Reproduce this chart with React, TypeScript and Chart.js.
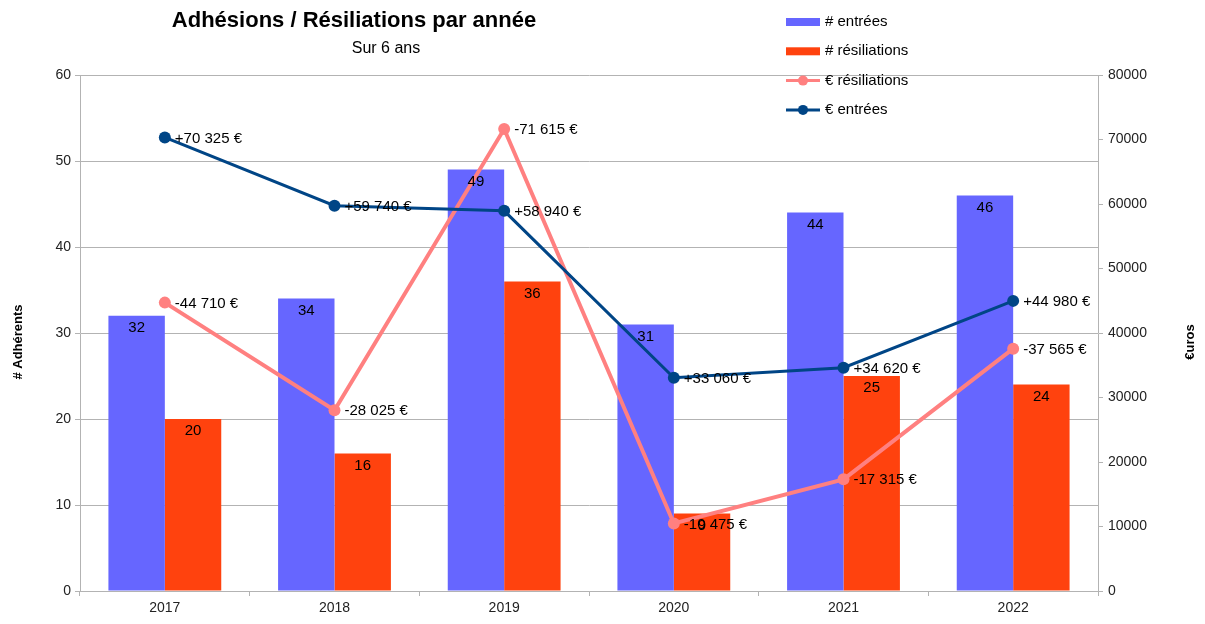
import React, { useEffect, useRef } from "react";
import { Chart, registerables } from "chart.js";

Chart.register(...registerables);

const categories = ["2017", "2018", "2019", "2020", "2021", "2022"];
const entrees = [32, 34, 49, 31, 44, 46];
const resiliations = [20, 16, 36, 9, 25, 24];
const euroResiliations = [44710, 28025, 71615, 10475, 17315, 37565];
const euroEntrees = [70325, 59740, 58940, 33060, 34620, 44980];

const FONT = "'Liberation Sans', Arial, sans-serif";
const BLUE = "#6666ff";
const RED = "#ff420e";
const PINK = "#ff8080";
const NAVY = "#004586";
const GRID = "#b3b3b3";

const fmt = (v: number) => String(v).replace(/\B(?=(\d{3})+(?!\d))/g, " ") + " €";

const overlayPlugin = {
  id: "overlay",
  afterDatasetsDraw(chart: any) {
    const ctx = chart.ctx;
    ctx.save();
    // bar labels
    ctx.font = `15px ${FONT}`;
    ctx.fillStyle = "#000";
    ctx.textAlign = "center";
    ctx.textBaseline = "middle";
    [0, 1].forEach((di) => {
      const meta = chart.getDatasetMeta(di);
      meta.data.forEach((el: any, i: number) => {
        const v = chart.data.datasets[di].data[i];
        ctx.fillText(String(v), el.x, el.y + 12);
      });
    });
    // line labels
    ctx.textAlign = "left";
    [2, 3].forEach((di) => {
      const meta = chart.getDatasetMeta(di);
      const sign = di === 2 ? "-" : "+";
      meta.data.forEach((el: any, i: number) => {
        const v = chart.data.datasets[di].data[i];
        ctx.fillText(sign + fmt(v), el.x + 10, el.y + 1);
      });
    });
    ctx.restore();
  },
  afterDraw(chart: any) {
    const ctx = chart.ctx;
    ctx.save();
    // titles
    ctx.fillStyle = "#000";
    ctx.textAlign = "center";
    ctx.textBaseline = "middle";
    ctx.font = `bold 22px ${FONT}`;
    ctx.fillText("Adhésions / Résiliations par année", 354, 21);
    ctx.font = `16px ${FONT}`;
    ctx.fillText("Sur 6 ans", 386, 49);
    // axis titles
    ctx.font = `bold 13px ${FONT}`;
    ctx.save();
    ctx.translate(18, 342);
    ctx.rotate(-Math.PI / 2);
    ctx.fillText("# Adhérents", 0, 0);
    ctx.restore();
    ctx.save();
    ctx.translate(1190, 342);
    ctx.rotate(-Math.PI / 2);
    ctx.fillText("€uros", 0, 0);
    ctx.restore();
    // legend
    const items = [
      { label: "# entrées", color: BLUE, type: "bar" },
      { label: "# résiliations", color: RED, type: "bar" },
      { label: "€ résiliations", color: PINK, type: "line" },
      { label: "€ entrées", color: NAVY, type: "line" },
    ];
    ctx.font = `15px ${FONT}`;
    ctx.textAlign = "left";
    items.forEach((it, i) => {
      const y = 22 + i * 29.3;
      if (it.type === "bar") {
        ctx.fillStyle = it.color;
        ctx.fillRect(786, y - 4, 34, 8);
      } else {
        ctx.strokeStyle = it.color;
        ctx.lineWidth = 3;
        ctx.beginPath();
        ctx.moveTo(786, y);
        ctx.lineTo(820, y);
        ctx.stroke();
        ctx.fillStyle = it.color;
        ctx.beginPath();
        ctx.arc(803, y, 5, 0, Math.PI * 2);
        ctx.fill();
      }
      ctx.fillStyle = "#000";
      ctx.fillText(it.label, 825, y);
    });
    ctx.restore();
  },
};

export default function App() {
  const ref = useRef<HTMLCanvasElement>(null);
  useEffect(() => {
    document.body.style.margin = "0";
    const chart = new Chart(ref.current!, {
      type: "bar",
      data: {
        labels: categories,
        datasets: [
          {
            type: "bar",
            label: "# entrées",
            data: entrees,
            backgroundColor: BLUE,
            yAxisID: "y",
            order: 3,
            categoryPercentage: 0.665,
            barPercentage: 1,
          },
          {
            type: "bar",
            label: "# résiliations",
            data: resiliations,
            backgroundColor: RED,
            yAxisID: "y",
            order: 3,
            categoryPercentage: 0.665,
            barPercentage: 1,
          },
          {
            type: "line",
            label: "€ résiliations",
            data: euroResiliations,
            borderColor: PINK,
            backgroundColor: PINK,
            borderWidth: 4,
            pointRadius: 6,
            pointBorderWidth: 0,
            pointBackgroundColor: PINK,
            yAxisID: "y1",
            order: 2,
          },
          {
            type: "line",
            label: "€ entrées",
            data: euroEntrees,
            borderColor: NAVY,
            backgroundColor: NAVY,
            borderWidth: 3,
            pointRadius: 6,
            pointBorderWidth: 0,
            pointBackgroundColor: NAVY,
            yAxisID: "y1",
            order: 1,
          },
        ],
      },
      options: {
        animation: false,
        responsive: true,
        maintainAspectRatio: false,
        layout: { padding: { top: 75, left: 0, right: 0, bottom: 0 } },
        plugins: {
          legend: { display: false },
          title: { display: false },
          tooltip: { enabled: false },
        },
        scales: {
          x: {
            offset: true,
            grid: {
              display: true,
              offset: true,
              drawOnChartArea: false,
              drawTicks: true,
              tickLength: 5,
              color: GRID,
            },
            border: { display: true, color: GRID },
            ticks: { color: "#222", font: { family: FONT, size: 14 }, padding: 4 },
            afterFit: (s: any) => {
              s.height = 33;
            },
          },
          y: {
            position: "left",
            min: 0,
            max: 60,
            ticks: { stepSize: 10, color: "#222", font: { family: FONT, size: 14 }, padding: 4 },
            grid: { color: GRID, tickLength: 5 },
            border: { display: true, color: GRID },
            afterFit: (s: any) => {
              s.width = 80;
            },
          },
          y1: {
            position: "right",
            min: 0,
            max: 80000,
            ticks: {
              stepSize: 10000,
              color: "#222",
              font: { family: FONT, size: 14 },
              padding: 5,
              callback: (v: any) => String(v),
            },
            grid: { drawOnChartArea: false, color: GRID, tickLength: 5 },
            border: { display: true, color: GRID },
            afterFit: (s: any) => {
              s.width = 107;
            },
          },
        },
      },
      plugins: [overlayPlugin],
    });
    return () => chart.destroy();
  }, []);
  return (
    <div style={{ position: "fixed", left: 0, top: 0, width: 1205, height: 624, background: "#fff" }}>
      <canvas ref={ref} />
    </div>
  );
}
